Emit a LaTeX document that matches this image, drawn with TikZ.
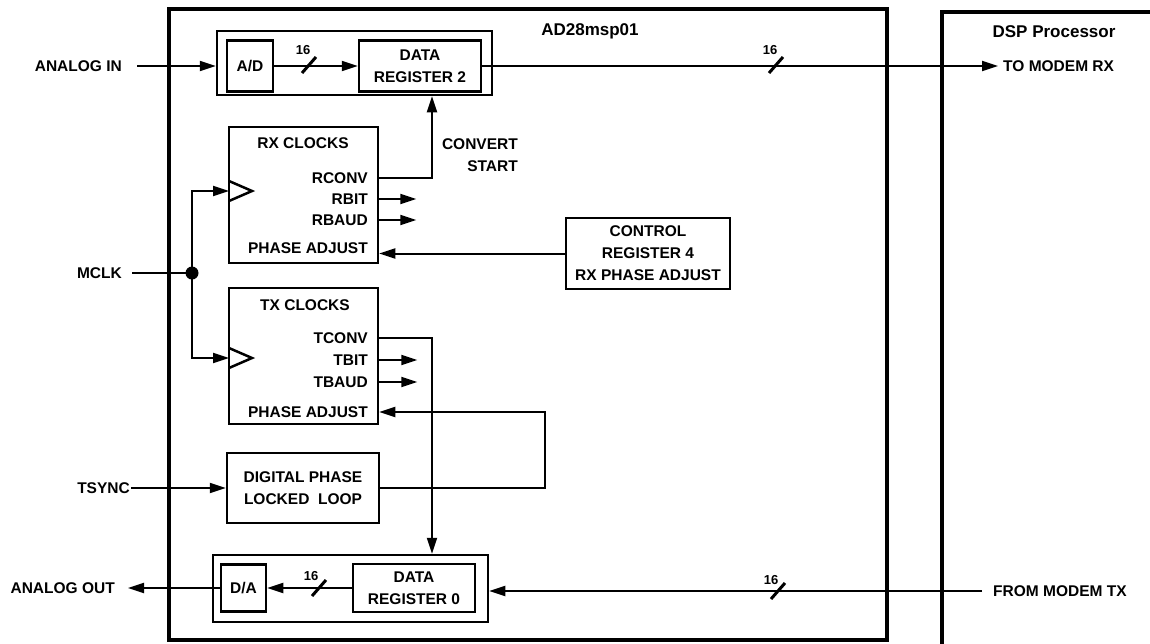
\documentclass[tikz,border=0pt]{standalone}
\usepackage{fontspec}
\setmainfont{Liberation Sans}
\usetikzlibrary{arrows.meta}
\begin{document}
\begin{tikzpicture}[x=1pt,y=-1pt,
 txt/.style={font=\bfseries\fontsize{15.5}{22}\selectfont, inner sep=0pt, align=center},
 ttl/.style={font=\bfseries\fontsize{17}{20}\selectfont, inner sep=0pt},
 bus/.style={font=\bfseries\fontsize{13}{15}\selectfont, inner sep=0pt},
 blk/.style={draw, line width=2.5pt, inner sep=0pt, align=center, font=\bfseries\fontsize{15.5}{22}\selectfont},
 outer/.style={draw, line width=3.5pt, inner sep=0pt},
 conn/.style={line width=2pt},
 slash/.style={line width=3pt},
 arr/.style={conn, -{Triangle[length=16pt,width=10pt]}},
 clk/.style={line width=2.5pt},
]
\useasboundingbox (0,0) rectangle (1150,643);
% containers
\node[outer, minimum width=718pt, minimum height=631pt] (ad28) at (528,324.5) {};
\draw[line width=3.5pt] (1152,12) -- (942,12) -- (942,645);
\node[ttl] (adt) at (590,31) {AD28msp01};
\node[ttl] (dspt) at (1054,32) {DSP Processor};
% receive path
\node[blk, minimum width=275pt, minimum height=64pt] (grpA) at (354.5,63) {};
\node[blk, minimum width=46pt, minimum height=51pt] (ad) at (250,66) {A/D};
\node[blk, minimum width=122pt, minimum height=51pt] (dr2) at (420,66) {DATA\\REGISTER 2};
% RX clocks
\node[blk, minimum width=149pt, minimum height=136pt] (rx) at (303.5,195) {};
\node[txt] (rxt) at (303,143) {RX CLOCKS};
\node[txt, anchor=east] (rconv) at (368,178) {RCONV};
\node[txt, anchor=east] (rbit) at (368,199) {RBIT};
\node[txt, anchor=east] (rbaud) at (368,220) {RBAUD};
\node[txt, anchor=east] (rpa) at (368,248) {PHASE ADJUST};
% TX clocks
\node[blk, minimum width=149pt, minimum height=136pt] (tx) at (303.5,356) {};
\node[txt] (txt1) at (305,305) {TX CLOCKS};
\node[txt, anchor=east] (tconv) at (368,338) {TCONV};
\node[txt, anchor=east] (tbit) at (368,360) {TBIT};
\node[txt, anchor=east] (tbaud) at (368,382) {TBAUD};
\node[txt, anchor=east] (tpa) at (368,412) {PHASE ADJUST};
% other blocks
\node[blk, minimum width=152pt, minimum height=70pt] (dpll) at (303,488) {DIGITAL PHASE\\LOCKED~~LOOP};
\node[blk, minimum width=164pt, minimum height=71pt] (cr) at (648,253.5) {CONTROL\\REGISTER 4\\RX PHASE ADJUST};
\node[blk, minimum width=275pt, minimum height=67pt] (grpB) at (350.5,588.5) {};
\node[blk, minimum width=45pt, minimum height=47pt] (da) at (243.5,588) {D/A};
\node[blk, minimum width=122pt, minimum height=48pt] (dr0) at (414,588) {DATA\\REGISTER 0};
% outside labels
\node[txt, anchor=east] (ain) at (122,66) {ANALOG IN};
\node[txt, anchor=east] (mclk) at (122,273) {MCLK};
\node[txt, anchor=east] (tsync) at (130,488) {TSYNC};
\node[txt, anchor=east] (aout) at (115,588) {ANALOG OUT};
\node[txt, anchor=west] (tmrx) at (1003,66) {TO MODEM RX};
\node[txt, anchor=west] (fmtx) at (993,591) {FROM MODEM TX};
\node[txt, align=right, anchor=east] (cs) at (518,155) {CONVERT\\START};
% coordinates
\coordinate (rxtip) at (998,66);
\coordinate (cv) at (432,178);
\coordinate (dot) at (192,273);
\coordinate (rxck) at (229,191);
\coordinate (txck) at (229,358);
\coordinate (tc) at (432,338);
\coordinate (fb) at (545,488);
\coordinate (aotip) at (128,588);
\coordinate (fm) at (982,591);
% connectors
\draw[arr] ([xshift=15pt]ain.east) -- (ain.east -| grpA.west);
\draw[arr] (ad.east) -- (dr2.west);
\draw[slash] (302,73) -- (316,57);
\node[bus] (b1) at (303,50) {16};
\draw[arr] (dr2.east) -- (rxtip);
\draw[slash] (769,73) -- (783,57);
\node[bus] (b2) at (770,50) {16};
\draw[arr] (rconv.east -| rx.east) -- (cv) -- (cv |- grpA.south);
\draw[arr] (rbit.east -| rx.east) -- ++(37,0);
\draw[arr] (rbaud.east -| rx.east) -- ++(37,0);
\draw[arr] (cr.west) -- (cr.west -| rx.east);
\draw[clk] (229,181) -- (252,191) -- (229,201);
\draw[clk] (229,348) -- (252,358) -- (229,368);
\draw[conn] ([xshift=10pt]mclk.east) -- (dot);
\fill (dot) circle (6.5);
\draw[arr] (dot) |- (rxck);
\draw[arr] (dot) |- (txck);
\draw[arr] (tconv.east -| tx.east) -- (tc) -- (tc |- grpB.north);
\draw[arr] (tbit.east -| tx.east) -- ++(38,0);
\draw[arr] (tbaud.east -| tx.east) -- ++(38,0);
\draw[arr] (dpll.east) -- (fb) |- (tpa.east -| tx.east);
\draw[arr] ([xshift=1pt]tsync.east) -- (dpll.west);
\draw[arr] (dr0.west) -- (da.east);
\draw[slash] (312,596) -- (326,580);
\node[bus] (b3) at (311,576) {16};
\draw[arr] (da.west) -- (aotip);
\draw[arr] (fm) -- (fm -| grpB.east);
\draw[slash] (771,599) -- (785,583);
\node[bus] (b4) at (771,580) {16};
\end{tikzpicture}
\end{document}
